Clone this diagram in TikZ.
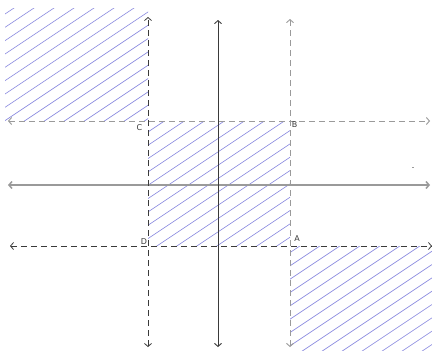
\documentclass[tikz,border=0pt]{standalone}
\usepackage{fontspec}
\setmainfont{DejaVu Sans}
\usetikzlibrary{arrows.meta}
\definecolor{hatchc}{HTML}{8A8ADF}
\definecolor{axgrey}{HTML}{9A9A9A}
\definecolor{axdark}{HTML}{3A3A3A}
\tikzset{
  hatch/.style={hatchc, line width=0.65pt},
  tip/.style={{Straight Barb[length=3pt,width=7pt]}-{Straight Barb[length=3pt,width=7pt]}},
  axisg/.style={tip, axgrey, line width=1.5pt},
  axisd/.style={tip, axdark, line width=0.9pt},
  dashg/.style={tip, axgrey, line width=0.9pt, dash pattern=on 6pt off 4pt},
  dashd/.style={tip, axdark, line width=0.8pt, dash pattern=on 6pt off 4pt},
  lbl/.style={font=\fontsize{8}{9}\selectfont, text=axdark, inner sep=0pt}
}
\begin{document}
\begin{tikzpicture}[x=1pt,y=-1pt]
\useasboundingbox (0,0) rectangle (432,351);
% corner points
\coordinate (C) at (148,121);
\coordinate (B) at (290,121);
\coordinate (D) at (148,246);
\coordinate (A) at (290,246);
% hatched regions
\begin{scope}
  \clip (5,8) rectangle (C);
  \foreach \k in {0,...,40} {
    \draw[hatch] (0,{13.33*\k+4}) -- (432,{13.33*\k+4-288});
  }
\end{scope}
\begin{scope}
  \clip (C) rectangle (A);
  \foreach \k in {0,...,60} {
    \draw[hatch] (0,{13.33*\k+4}) -- (432,{13.33*\k+4-288});
  }
\end{scope}
\begin{scope}
  \clip (A) rectangle (432,351);
  \foreach \k in {0,...,70} {
    \draw[hatch] (0,{13.33*\k+6}) -- (432,{13.33*\k+6-288});
  }
\end{scope}
% axes
\coordinate (xl) at (8,185);
\coordinate (xr) at (430,185);
\coordinate (yt) at (218,20);
\coordinate (yb) at (218,347);
\draw[axisg] (xl) -- (xr);
\draw[axisd] (yb) -- (yt);
% dashed lines
\coordinate (h1l) at (8,121);
\coordinate (h1r) at (430,121);
\coordinate (h2l) at (10,246);
\coordinate (h2r) at (432,246);
\coordinate (v1t) at (148,17);
\coordinate (v1b) at (148,347);
\coordinate (v2t) at (290,19);
\coordinate (v2b) at (290,347);
\draw[dashg] (h1l) -- (h1r);
\draw[dashd] (h2l) -- (h2r);
\draw[dashd] (v1b) -- (v1t);
\draw[dashg] (v2b) -- (v2t);
% speck
\draw[axgrey, line width=0.5pt] (412,167) -- (414,167);
% labels
\node[lbl] (lC) at (139.5,128) {C};
\node[lbl] (lB) at (294.5,125) {B};
\node[lbl] (lD) at (144,241.5) {D};
\node[lbl] (lA) at (297,239) {A};
\end{tikzpicture}
\end{document}
